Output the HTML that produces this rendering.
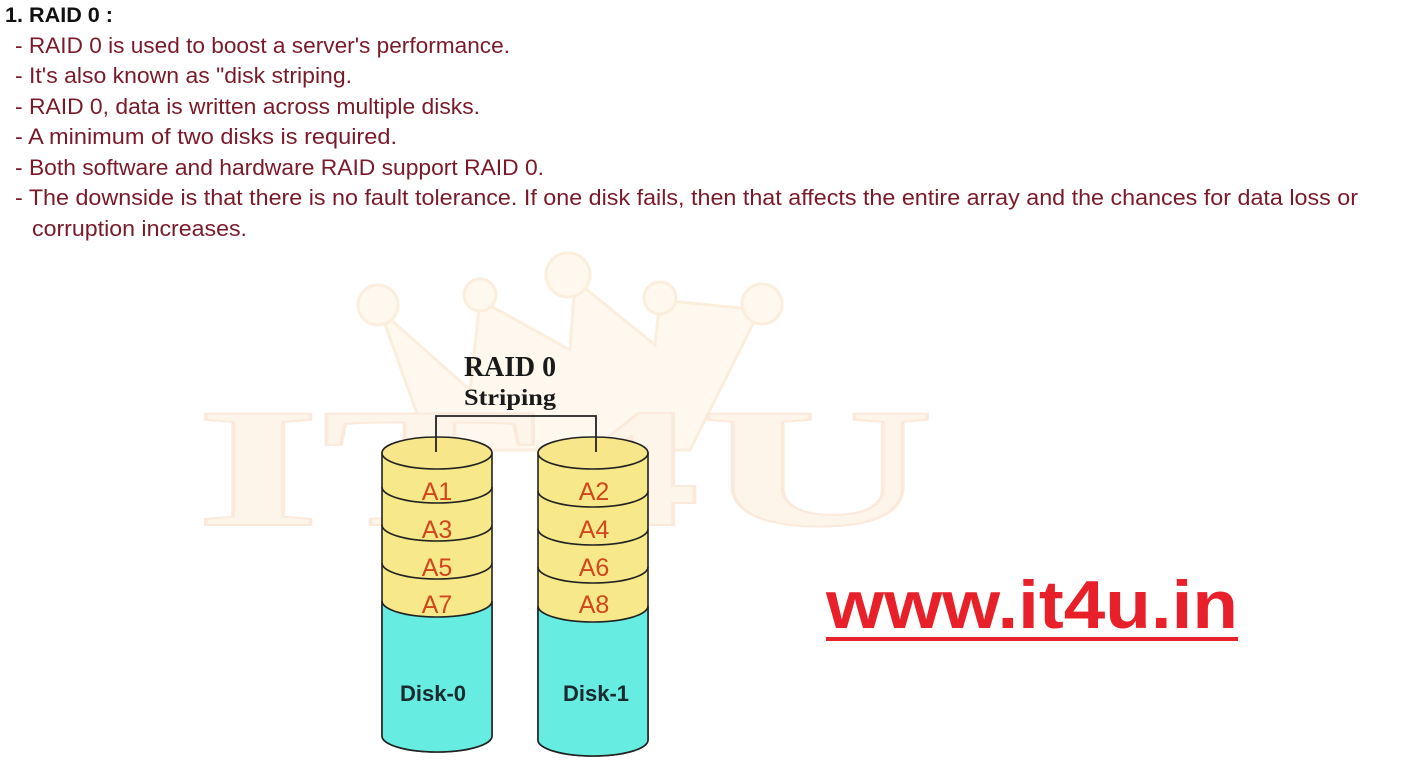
<!DOCTYPE html>
<html><head><meta charset="utf-8"><style>
html,body{margin:0;padding:0;background:#fff;width:1409px;height:770px;overflow:hidden}
svg{display:block}
.t{font-family:"Liberation Sans",sans-serif;font-size:22px;fill:#7a1a28}
.lab{font-family:"Liberation Sans",sans-serif;font-size:25px;fill:#d2461e}
.dk{font-family:"Liberation Sans",sans-serif;font-size:22px;font-weight:bold;fill:#1a2a30}
</style></head><body>
<svg width="1409" height="770" viewBox="0 0 1409 770" xmlns="http://www.w3.org/2000/svg">
<!-- watermark -->
<g fill="#fef8ef" stroke="#fbeedd" stroke-width="3">
<path d="M380 310 L470 390 L480 300 L570 350 L575 280 L655 345 L660 300 L760 310 L690 450 L430 450 Z"/>
<circle cx="378" cy="305" r="20"/><circle cx="480" cy="295" r="16"/><circle cx="568" cy="275" r="22"/><circle cx="660" cy="298" r="16"/><circle cx="762" cy="304" r="20"/>
</g>
<text x="195" y="525" font-family="Liberation Serif,serif" font-weight="bold" font-size="170" fill="#fef5ea" stroke="#fbeadb" stroke-width="2" textLength="740" lengthAdjust="spacingAndGlyphs">IT4U</text>
<!-- text -->
<text x="5" y="22" font-family="Liberation Sans,sans-serif" font-weight="bold" font-size="21" fill="#111" textLength="108" lengthAdjust="spacingAndGlyphs">1. RAID 0 :</text>
<text class="t" x="15" y="53" textLength="495" lengthAdjust="spacingAndGlyphs">- RAID 0 is used to boost a server's performance.</text>
<text class="t" x="15" y="83" textLength="337" lengthAdjust="spacingAndGlyphs">- It's also known as "disk striping.</text>
<text class="t" x="15" y="114" textLength="465" lengthAdjust="spacingAndGlyphs">- RAID 0, data is written across multiple disks.</text>
<text class="t" x="15" y="144" textLength="382" lengthAdjust="spacingAndGlyphs">- A minimum of two disks is required.</text>
<text class="t" x="15" y="175" textLength="529" lengthAdjust="spacingAndGlyphs">- Both software and hardware RAID support RAID 0.</text>
<text class="t" x="15" y="205" textLength="1343" lengthAdjust="spacingAndGlyphs">- The downside is that there is no fault tolerance. If one disk fails, then that affects the entire array and the chances for data loss or</text>
<text class="t" x="32" y="236" textLength="215" lengthAdjust="spacingAndGlyphs">corruption increases.</text>
<!-- title -->
<text x="510" y="376" text-anchor="middle" font-family="Liberation Serif,serif" font-weight="bold" font-size="28" fill="#1a1a1a" textLength="92" lengthAdjust="spacingAndGlyphs">RAID 0</text>
<text x="510" y="405" text-anchor="middle" font-family="Liberation Serif,serif" font-weight="bold" font-size="23" fill="#1a1a1a" textLength="92" lengthAdjust="spacingAndGlyphs">Striping</text>
<!-- cylinders -->
<g stroke="#222" stroke-width="1.6">
 <path d="M382 453 V736 A55 16 0 0 0 492 736 V453 Z" fill="#f7e98a"/>
 <path d="M382 601 A55 16 0 0 0 492 601 V736 A55 16 0 0 1 382 736 Z" fill="#66ece0"/>
 <path d="M382 487 A55 16 0 0 0 492 487 M382 525 A55 16 0 0 0 492 525 M382 563 A55 16 0 0 0 492 563" fill="none"/>
 <ellipse cx="437" cy="453" rx="55" ry="16" fill="#f7e68a"/>
 <path d="M538 453 V740 A55 16 0 0 0 648 740 V453 Z" fill="#f7e98a"/>
 <path d="M538 606 A55 16 0 0 0 648 606 V740 A55 16 0 0 1 538 740 Z" fill="#66ece0"/>
 <path d="M538 491 A55 16 0 0 0 648 491 M538 529 A55 16 0 0 0 648 529 M538 567 A55 16 0 0 0 648 567" fill="none"/>
 <ellipse cx="593" cy="453" rx="55" ry="16" fill="#f7e68a"/>
 <path d="M436 452 V416 H596 V452" fill="none" stroke-width="1.8"/>
</g>
<text class="lab" x="437" y="500" text-anchor="middle">A1</text>
<text class="lab" x="437" y="538" text-anchor="middle">A3</text>
<text class="lab" x="437" y="576" text-anchor="middle">A5</text>
<text class="lab" x="437" y="613" text-anchor="middle">A7</text>
<text class="lab" x="594" y="500" text-anchor="middle">A2</text>
<text class="lab" x="594" y="538" text-anchor="middle">A4</text>
<text class="lab" x="594" y="576" text-anchor="middle">A6</text>
<text class="lab" x="594" y="613" text-anchor="middle">A8</text>
<text class="dk" x="433" y="701" text-anchor="middle">Disk-0</text>
<text class="dk" x="596" y="701" text-anchor="middle">Disk-1</text>
<!-- url -->
<text x="826" y="628" font-family="Liberation Sans,sans-serif" font-weight="bold" font-size="68" fill="#e8202a" textLength="412" lengthAdjust="spacingAndGlyphs">www.it4u.in</text>
<rect x="826" y="637" width="412" height="4" fill="#e8202a"/>
</svg>
</body></html>
